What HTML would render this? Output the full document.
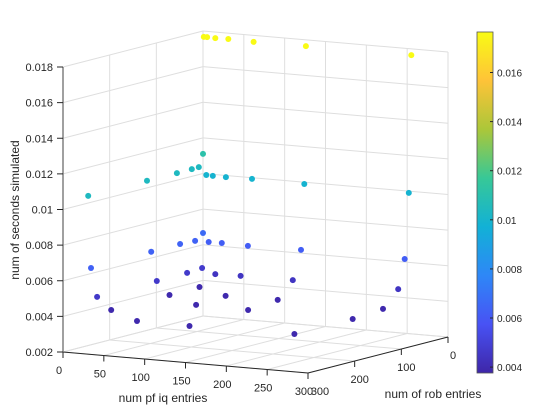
<!DOCTYPE html>
<html><head><meta charset="utf-8">
<style>
html,body{margin:0;padding:0;background:#fff;}
svg{display:block;font-family:"Liberation Sans",sans-serif;}
</style></head>
<body>
<svg id="chart" width="560" height="420" viewBox="0 0 560 420" xmlns="http://www.w3.org/2000/svg">
<rect width="560" height="420" fill="#fff"/>
<g id="grid"></g>
<g id="axes"></g>
<g id="points"></g>
<g id="cbar"></g>
<text x="163" y="402" font-size="12" text-anchor="middle" fill="#262626">num pf iq entries</text>
<text x="433" y="398" font-size="12" text-anchor="middle" fill="#262626">num of rob entries</text>
<text transform="translate(19,210) rotate(-90)" font-size="12" text-anchor="middle" fill="#262626">num of seconds simulated</text>
</svg>
<script>
// data: iq entries (x), rob entries (y), seconds simulated (z)
const xs = [1,5,15,31,62,126,255,
  4,12,28,60,124,252, 0,0,0,0,0,0,
  0,0,0,0,0, 7,23,55,120,247,
  0,0,0,0, 15,46,110,239,
  14,15,15,78,70,132,261,75,144,141,269,269];
const ys = [0,0,0,0,0,0,0,
  0,0,0,0,0,0, 0,9,24,56,120,246,
  0,17,49,111,240, 0,0,0,0,0,
  2,34,99,227, 0,0,0,0,
  32,98,223,278,74,71,71,146,281,150,275,150];
const zs = [0.01767,0.01768,0.01766,0.01767,0.01763,0.01765,0.01765,
  0.00993,0.00991,0.00991,0.00993,0.0099,0.0099, 0.0111,0.01042,0.01041,0.0104,0.0104,0.0104,
  0.00666,0.00633,0.00637,0.00635,0.00631, 0.00618,0.00619,0.00615,0.00618,0.00617,
  0.00471,0.00465,0.00463,0.0046, 0.00441,0.00443,0.00445,0.00445,
  0.0039,0.0039,0.0039,0.0039,0.0039,0.0039,0.0039,0.0039,0.0039,0.0039,0.0039,0.0039];
const xTicks = [0,50,100,150,200,250,300];
const yTicks = [0,100,200,300];
const zTicks = [0.002,0.004,0.006,0.008,0.01,0.012,0.014,0.016,0.018];
const zTickLabels = ["0.002","0.004","0.006","0.008","0.01","0.012","0.014","0.016","0.018"];
const cTicks = [0.004,0.006,0.008,0.01,0.012,0.014,0.016];
const cTickLabels = ["0.004","0.006","0.008","0.01","0.012","0.014","0.016"];

const NS="http://www.w3.org/2000/svg";
const Z0=0.002,Z1=0.018;
function P(x,y,z){
  return [203 + x*245/300 - y*140/300,
          316 + x*21/300 + y*36/300 - (z-Z0)*285/(Z1-Z0)];
}
function mk(tag,attrs,parent,txt){
  const e=document.createElementNS(NS,tag);
  for(const k in attrs) e.setAttribute(k,attrs[k]);
  if(txt!==undefined) e.textContent=txt;
  parent.appendChild(e); return e;
}
function seg(a,b,stroke,parent,w){
  return mk('line',{x1:a[0],y1:a[1],x2:b[0],y2:b[1],stroke:stroke,'stroke-width':w||1},parent);
}
const grid=document.getElementById('grid');
const axes=document.getElementById('axes');
const GC='#dedede';
// floor grid
xTicks.forEach(t=>{const l=seg(P(t,0,Z0),P(t,300,Z0),GC,grid);

});
yTicks.forEach(t=>{const l=seg(P(0,t,Z0),P(300,t,Z0),GC,grid);

});
// back wall y=0
xTicks.forEach(t=>{const l=seg(P(t,0,Z0),P(t,0,Z1),GC,grid);

});
zTicks.forEach(t=>{const l=seg(P(0,0,t),P(300,0,t),GC,grid);

});
// side wall x=0
yTicks.forEach(t=>{const l=seg(P(0,t,Z0),P(0,t,Z1),GC,grid);

});
zTicks.forEach(t=>{const l=seg(P(0,0,t),P(0,300,t),GC,grid);

});
// axis lines
const AC='#262626';
let a;
a=seg(P(0,300,Z0),P(300,300,Z0),AC,axes);


a=seg(P(300,300,Z0),P(300,0,Z0),AC,axes);


a=seg(P(0,300,Z0),P(0,300,Z1),'#808080',axes,1.5);


xTicks.forEach(t=>{const p=P(t,300,Z0);
 seg(p,[p[0],p[1]+6],AC,axes);
 const tx=mk('text',{x:p[0]-4,y:p[1]+22,'font-size':11,'text-anchor':'middle',fill:'#262626'},axes,String(t));
 
 });
yTicks.forEach(t=>{const p=P(300,t,Z0);
 seg(p,[p[0],p[1]+6],AC,axes);
 const tx=mk('text',{x:p[0]+(t===300?12:5),y:p[1]+22,'font-size':11,'text-anchor':'middle',fill:'#262626'},axes,String(t));
 
 });
zTicks.forEach((t,i)=>{const p=P(0,300,t);
 seg([p[0]-6,p[1]],p,AC,axes);
 const tx=mk('text',{x:p[0]-10,y:p[1]+4,'font-size':11,'text-anchor':'end',fill:'#262626'},axes,zTickLabels[i]);
 
 });
// parula colormap
const PAR=[[62,38,168],[72,82,244],[46,135,247],[18,177,214],[55,200,151],[171,199,57],[254,195,56],[249,251,21]];
const CMIN=0.00376,CMAX=0.01765;
function col(v){
 let t=(v-CMIN)/(CMAX-CMIN); t=Math.max(0,Math.min(1,t));
 const f=t*(PAR.length-1); const i=Math.min(PAR.length-2,Math.floor(f)); const r=f-i;
 const c=PAR[i].map((c0,k)=>Math.round(c0+(PAR[i+1][k]-c0)*r));
 return 'rgb('+c.join(',')+')';
}
const pts=document.getElementById('points');
xs.forEach((x,i)=>{const p=P(x,ys[i],zs[i]);
 const c=mk('circle',{cx:p[0].toFixed(1),cy:p[1].toFixed(1),r:3,fill:col(zs[i])},pts);
 
 });
// colorbar
const cb=document.getElementById('cbar');
const CB_X=477,CB_W=16,CB_TOP=32,CB_BOT=373;
const defs=mk('defs',{},cb);
const lg=mk('linearGradient',{id:'pg',x1:0,y1:1,x2:0,y2:0},defs);
PAR.forEach((c,i)=>mk('stop',{offset:(i/(PAR.length-1)),'stop-color':'rgb('+c.join(',')+')'},lg));
const rb=mk('rect',{x:CB_X,y:CB_TOP,width:CB_W,height:CB_BOT-CB_TOP,fill:'url(#pg)',stroke:'#555','stroke-width':0.8},cb);


function cy(v){return CB_BOT-(v-CMIN)/(CMAX-CMIN)*(CB_BOT-CB_TOP);}
cTicks.forEach((t,i)=>{const y=cy(t);
 seg([CB_X+CB_W-3,y],[CB_X+CB_W,y],'#262626',cb);
 const tx=mk('text',{x:CB_X+CB_W+4,y:y+4,'font-size':10,fill:'#262626'},cb,cTickLabels[i]);
 
 });
</script>
</body></html>
